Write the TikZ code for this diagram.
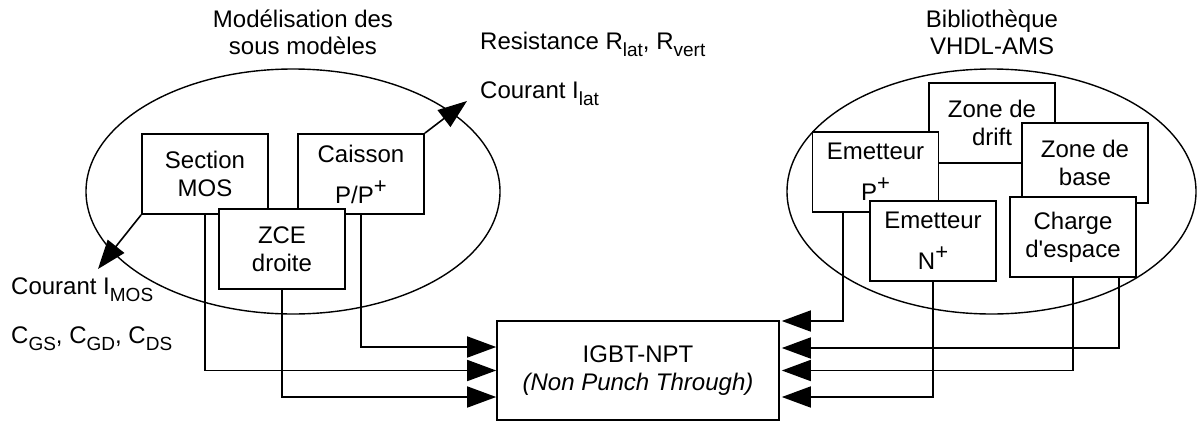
\documentclass[tikz,border=0pt]{standalone}
\usepackage{fontspec}
\setmainfont{Liberation Sans}
\usetikzlibrary{arrows.meta,shapes.geometric}
\newcommand\mysub[1]{\raisebox{-7pt}{\fontsize{19}{19}\selectfont #1}}
\newcommand\mysup[1]{\raisebox{10pt}{\fontsize{22}{22}\selectfont #1}}
\begin{document}
\begin{tikzpicture}[x=1pt,y=-1pt,
  every node/.style={font=\fontsize{24}{28}\selectfont},
  blk/.style={draw, fill=white, line width=1.8pt, minimum width=126pt, minimum height=80pt, inner sep=0pt, align=center},
  oval/.style={draw, ellipse, line width=1.4pt, inner sep=0pt},
  arr/.style={line width=1.6pt, -{Triangle[length=29pt,width=21pt]}},
  lbl/.style={inner sep=0pt, anchor=base west},
  ttl/.style={inner sep=0pt, anchor=base}]
\useasboundingbox (0,0) rectangle (1197,421);

% ovals
\node[oval, minimum width=414pt, minimum height=245pt] (lov) at (293,191.5) {};
\node[oval, minimum width=409pt, minimum height=245pt] (rov) at (991.5,191.5) {};

% titles
\node[ttl] (t1a) at (303,27) {Modélisation des};
\node[ttl] (t1b) at (303,54) {sous modèles};
\node[ttl] (t2a) at (992,27) {Bibliothèque};
\node[ttl] (t2b) at (992,54) {VHDL-AMS};

% left boxes
\node[blk] (sec) at (205,174) {Section\\MOS};
\node[blk] (cai) at (361,174) {Caisson\\[13pt]P/P\mysup{+}};
\node[blk] (zce) at (282,249) {ZCE\\droite};

% right boxes
\node[blk] (dri) at (992,123) {Zone de\\drift};
\node[blk] (epp) at (875.5,172) {Emetteur\\[13pt]P\mysup{+}};
\node[blk] (bas) at (1085,163) {Zone de\\base};
\node[blk] (enn) at (933,241) {Emetteur\\[13pt]N\mysup{+}};
\node[blk] (chg) at (1073,237) {Charge\\d\textquotesingle espace};

% main block
\node[blk, minimum width=282pt, minimum height=99pt, line width=1.6pt] (igbt) at (638,370.5) {IGBT-NPT\\{\itshape (Non Punch Through)}};

% labels
\node[lbl] (res) at (480,49) {Resistance R\mysub{lat}, R\mysub{vert}};
\node[lbl] (ilat) at (480,98) {Courant I\mysub{lat}};
\node[lbl] (imos) at (11,294) {Courant I\mysub{MOS}};
\node[lbl] (caps) at (11,343) {C\mysub{GS}, C\mysub{GD}, C\mysub{DS}};

% output arrows
\coordinate (imosTip) at (98,269);
\coordinate (ilatTip) at (467,101);
\draw[arr] (sec.south west) -- (imosTip);
\draw[arr] (cai.north east) -- (ilatTip);

% left connectors
\draw[arr] (cai.south) |- ([yshift=23.5pt]igbt.west);
\draw[arr] (sec.south) |- (igbt.west);
\draw[arr] (zce.south) |- ([yshift=-26.5pt]igbt.west);

% right connectors
\draw[arr] ([xshift=-32.5pt]epp.south) |- ([xshift=2pt,yshift=49.5pt]igbt.east);
\draw[arr] ([xshift=46pt]chg.south) |- ([xshift=2pt,yshift=22.5pt]igbt.east);
\draw[arr] (chg.south) |- ([xshift=2pt]igbt.east);
\draw[arr] (enn.south) |- ([xshift=2pt,yshift=-26.5pt]igbt.east);
\end{tikzpicture}
\end{document}
